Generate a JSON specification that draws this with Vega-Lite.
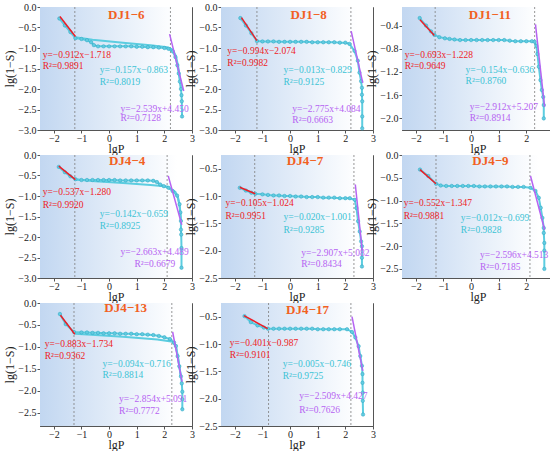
{
  "$schema": "https://vega.github.io/schema/vega-lite/v6.json",
  "padding": {"left": 3, "top": 1, "right": 4, "bottom": 0},
  "background": "white",
  "columns": 3,
  "spacing": {"row": 25, "column": 29},
  "bounds": "flush",
  "datasets": {
    "vl": [
      {"p": "1-6", "x": -1.24}, {"p": "1-6", "x": 2.22},
      {"p": "1-8", "x": -1.2}, {"p": "1-8", "x": 2.2},
      {"p": "1-11", "x": -1.3}, {"p": "1-11", "x": 2.3},
      {"p": "4-4", "x": -1.24}, {"p": "4-4", "x": 2.1},
      {"p": "4-7", "x": -1.28}, {"p": "4-7", "x": 2.31},
      {"p": "4-9", "x": -1.27}, {"p": "4-9", "x": 2.13},
      {"p": "4-13", "x": -1.27}, {"p": "4-13", "x": 2.27},
      {"p": "4-17", "x": -0.78}, {"p": "4-17", "x": 2.2}
    ],
    "fit": [
      {"p": "1-6", "k": "r", "x": -1.78, "y": -0.23}, {"p": "1-6", "k": "r", "x": -1.22, "y": -0.72},
      {"p": "1-6", "k": "m", "x": 2.19, "y": -0.66}, {"p": "1-6", "k": "m", "x": 2.7, "y": -2.05},
      {"p": "1-8", "k": "r", "x": -1.76, "y": -0.26}, {"p": "1-8", "k": "r", "x": -1.2, "y": -0.82},
      {"p": "1-8", "k": "m", "x": 2.21, "y": -0.59}, {"p": "1-8", "k": "m", "x": 2.63, "y": -1.85},
      {"p": "1-11", "k": "r", "x": -1.85, "y": -0.3}, {"p": "1-11", "k": "r", "x": -1.33, "y": -0.57},
      {"p": "1-11", "k": "m", "x": 2.33, "y": -0.38}, {"p": "1-11", "k": "m", "x": 2.66, "y": -1.8},
      {"p": "4-4", "k": "r", "x": -1.82, "y": -0.27}, {"p": "4-4", "k": "r", "x": -1.22, "y": -0.6},
      {"p": "4-4", "k": "m", "x": 2.14, "y": -0.51}, {"p": "4-4", "k": "m", "x": 2.63, "y": -1.7},
      {"p": "4-7", "k": "r", "x": -1.82, "y": -0.84}, {"p": "4-7", "k": "r", "x": -1.26, "y": -0.96},
      {"p": "4-7", "k": "m", "x": 2.36, "y": -0.79}, {"p": "4-7", "k": "m", "x": 2.61, "y": -2.0},
      {"p": "4-9", "k": "r", "x": -1.85, "y": -0.32}, {"p": "4-9", "k": "r", "x": -1.27, "y": -0.63},
      {"p": "4-9", "k": "m", "x": 2.15, "y": -0.46}, {"p": "4-9", "k": "m", "x": 2.66, "y": -1.64},
      {"p": "4-13", "k": "r", "x": -1.76, "y": -0.28}, {"p": "4-13", "k": "r", "x": -1.24, "y": -0.71},
      {"p": "4-13", "k": "m", "x": 2.3, "y": -0.66}, {"p": "4-13", "k": "m", "x": 2.64, "y": -1.79},
      {"p": "4-17", "k": "r", "x": -1.67, "y": -0.48}, {"p": "4-17", "k": "r", "x": -0.81, "y": -0.72},
      {"p": "4-17", "k": "m", "x": 2.24, "y": -0.5}, {"p": "4-17", "k": "m", "x": 2.63, "y": -1.49}
    ],
    "ann": [
      {"p": "1-6", "k": "t", "x": 0.62, "y": -0.2, "t": "DJ1−6"},
      {"p": "1-6", "k": "r", "x": -2.4, "y": -1.17, "t": "y=−0.912x−1.718"},
      {"p": "1-6", "k": "r", "x": -2.4, "y": -1.45, "t": "R²=0.9891"},
      {"p": "1-6", "k": "c", "x": -0.34, "y": -1.54, "t": "y=−0.157x−0.863"},
      {"p": "1-6", "k": "c", "x": -0.34, "y": -1.82, "t": "R²=0.8019"},
      {"p": "1-6", "k": "m", "x": 0.41, "y": -2.48, "t": "y=−2.539x+4.450"},
      {"p": "1-6", "k": "m", "x": 0.41, "y": -2.71, "t": "R²=0.7128"},
      {"p": "1-8", "k": "t", "x": 0.67, "y": -0.2, "t": "DJ1−8"},
      {"p": "1-8", "k": "r", "x": -2.27, "y": -1.07, "t": "y=−0.994x−2.074"},
      {"p": "1-8", "k": "r", "x": -2.27, "y": -1.36, "t": "R²=0.9982"},
      {"p": "1-8", "k": "c", "x": -0.24, "y": -1.54, "t": "y=−0.013x−0.829"},
      {"p": "1-8", "k": "c", "x": -0.24, "y": -1.83, "t": "R²=0.9125"},
      {"p": "1-8", "k": "m", "x": 0.08, "y": -2.48, "t": "y=−2.775x+4.084"},
      {"p": "1-8", "k": "m", "x": 0.08, "y": -2.75, "t": "R²=0.6663"},
      {"p": "1-11", "k": "t", "x": 0.68, "y": -0.21, "t": "DJ1−11"},
      {"p": "1-11", "k": "r", "x": -2.4, "y": -0.9, "t": "y=−0.693x−1.228"},
      {"p": "1-11", "k": "r", "x": -2.4, "y": -1.09, "t": "R²=0.9649"},
      {"p": "1-11", "k": "c", "x": -0.2, "y": -1.16, "t": "y=−0.154x−0.636"},
      {"p": "1-11", "k": "c", "x": -0.2, "y": -1.36, "t": "R²=0.8760"},
      {"p": "1-11", "k": "m", "x": -0.05, "y": -1.81, "t": "y=−2.912x+5.207"},
      {"p": "1-11", "k": "m", "x": -0.05, "y": -1.99, "t": "R²=0.8914"},
      {"p": "4-4", "k": "t", "x": 0.65, "y": -0.15, "t": "DJ4−4"},
      {"p": "4-4", "k": "r", "x": -2.4, "y": -0.9, "t": "y=−0.537x−1.280"},
      {"p": "4-4", "k": "r", "x": -2.4, "y": -1.22, "t": "R²=0.9920"},
      {"p": "4-4", "k": "c", "x": -0.34, "y": -1.43, "t": "y=−0.142x−0.659"},
      {"p": "4-4", "k": "c", "x": -0.34, "y": -1.72, "t": "R²=0.8925"},
      {"p": "4-4", "k": "m", "x": 0.41, "y": -2.36, "t": "y=−2.663x+4.489"},
      {"p": "4-4", "k": "m", "x": 0.92, "y": -2.65, "t": "R²=0.6679"},
      {"p": "4-7", "k": "t", "x": 0.54, "y": -0.36, "t": "DJ4−7"},
      {"p": "4-7", "k": "r", "x": -2.34, "y": -1.13, "t": "y=−0.105x−1.024"},
      {"p": "4-7", "k": "r", "x": -2.34, "y": -1.36, "t": "R²=0.9951"},
      {"p": "4-7", "k": "c", "x": -0.24, "y": -1.39, "t": "y=−0.020x−1.001"},
      {"p": "4-7", "k": "c", "x": -0.24, "y": -1.62, "t": "R²=0.9285"},
      {"p": "4-7", "k": "m", "x": 0.4, "y": -2.04, "t": "y=−2.907x+5.082"},
      {"p": "4-7", "k": "m", "x": 0.4, "y": -2.25, "t": "R²=0.8434"},
      {"p": "4-9", "k": "t", "x": 0.7, "y": -0.14, "t": "DJ4−9"},
      {"p": "4-9", "k": "r", "x": -2.44, "y": -1.05, "t": "y=−0.552x−1.347"},
      {"p": "4-9", "k": "r", "x": -2.44, "y": -1.33, "t": "R²=0.9881"},
      {"p": "4-9", "k": "c", "x": -0.37, "y": -1.38, "t": "y=−0.012x−0.699"},
      {"p": "4-9", "k": "c", "x": -0.37, "y": -1.64, "t": "R²=0.9828"},
      {"p": "4-9", "k": "m", "x": 0.32, "y": -2.19, "t": "y=−2.596x+4.513"},
      {"p": "4-9", "k": "m", "x": 0.32, "y": -2.46, "t": "R²=0.7185"},
      {"p": "4-13", "k": "t", "x": 0.6, "y": -0.12, "t": "DJ4−13"},
      {"p": "4-13", "k": "r", "x": -2.33, "y": -0.94, "t": "y=−0.883x−1.734"},
      {"p": "4-13", "k": "r", "x": -2.33, "y": -1.21, "t": "R²=0.9362"},
      {"p": "4-13", "k": "c", "x": -0.24, "y": -1.38, "t": "y=−0.094x−0.716"},
      {"p": "4-13", "k": "c", "x": -0.24, "y": -1.63, "t": "R²=0.8814"},
      {"p": "4-13", "k": "m", "x": 0.36, "y": -2.19, "t": "y=−2.854x+5.091"},
      {"p": "4-13", "k": "m", "x": 0.36, "y": -2.46, "t": "R²=0.7772"},
      {"p": "4-17", "k": "t", "x": 0.63, "y": -0.37, "t": "DJ4−17"},
      {"p": "4-17", "k": "r", "x": -2.18, "y": -0.98, "t": "y=−0.401x−0.987"},
      {"p": "4-17", "k": "r", "x": -2.18, "y": -1.21, "t": "R²=0.9101"},
      {"p": "4-17", "k": "c", "x": -0.27, "y": -1.36, "t": "y=−0.005x−0.746"},
      {"p": "4-17", "k": "c", "x": -0.27, "y": -1.59, "t": "R²=0.9725"},
      {"p": "4-17", "k": "m", "x": 0.33, "y": -1.96, "t": "y=−2.509x+4.427"},
      {"p": "4-17", "k": "m", "x": 0.33, "y": -2.2, "t": "R²=0.7626"}
    ],
    "curve": [
      {"p": "1-6", "s": "a", "x": -1.8, "y": -0.28}, {"p": "1-6", "s": "a", "x": -1.6, "y": -0.45}, {"p": "1-6", "s": "a", "x": -1.4, "y": -0.61},
      {"p": "1-6", "s": "a", "x": -1.22, "y": -0.76}, {"p": "1-6", "s": "a", "x": -1.0, "y": -0.78}, {"p": "1-6", "s": "a", "x": -0.8, "y": -0.81},
      {"p": "1-6", "s": "a", "x": -0.65, "y": -0.86}, {"p": "1-6", "s": "a", "x": -0.55, "y": -0.93}, {"p": "1-6", "s": "a", "x": -0.4, "y": -0.96},
      {"p": "1-6", "s": "a", "x": -0.2, "y": -0.96}, {"p": "1-6", "s": "a", "x": 0.0, "y": -0.96}, {"p": "1-6", "s": "a", "x": 0.2, "y": -0.96},
      {"p": "1-6", "s": "a", "x": 0.4, "y": -0.96}, {"p": "1-6", "s": "a", "x": 0.6, "y": -0.96}, {"p": "1-6", "s": "a", "x": 0.8, "y": -0.96},
      {"p": "1-6", "s": "a", "x": 1.0, "y": -0.97}, {"p": "1-6", "s": "a", "x": 1.2, "y": -0.97}, {"p": "1-6", "s": "a", "x": 1.4, "y": -0.98},
      {"p": "1-6", "s": "a", "x": 1.6, "y": -0.98}, {"p": "1-6", "s": "a", "x": 1.8, "y": -0.99}, {"p": "1-6", "s": "a", "x": 2.0, "y": -1.0},
      {"p": "1-6", "s": "a", "x": 2.15, "y": -1.02}, {"p": "1-6", "s": "a", "x": 2.3, "y": -1.08}, {"p": "1-6", "s": "a", "x": 2.4, "y": -1.22},
      {"p": "1-6", "s": "a", "x": 2.47, "y": -1.42}, {"p": "1-6", "s": "a", "x": 2.52, "y": -1.62}, {"p": "1-6", "s": "a", "x": 2.56, "y": -1.82},
      {"p": "1-6", "s": "a", "x": 2.6, "y": -2.0}, {"p": "1-6", "s": "a", "x": 2.62, "y": -2.15}, {"p": "1-6", "s": "a", "x": 2.63, "y": -2.3},
      {"p": "1-6", "s": "a", "x": 2.64, "y": -2.67},
      {"p": "1-6", "s": "b", "x": -1.22, "y": -0.74}, {"p": "1-6", "s": "b", "x": -0.6, "y": -0.8}, {"p": "1-6", "s": "b", "x": 0.5, "y": -0.87},
      {"p": "1-6", "s": "b", "x": 1.5, "y": -0.93}, {"p": "1-6", "s": "b", "x": 2.1, "y": -0.98}, {"p": "1-6", "s": "b", "x": 2.3, "y": -1.04},
      {"p": "1-6", "s": "b", "x": 2.42, "y": -1.2}, {"p": "1-6", "s": "b", "x": 2.5, "y": -1.45}, {"p": "1-6", "s": "b", "x": 2.57, "y": -1.75},
      {"p": "1-6", "s": "b", "x": 2.6, "y": -1.95},

      {"p": "1-8", "s": "a", "x": -1.8, "y": -0.27}, {"p": "1-8", "s": "a", "x": -1.6, "y": -0.45}, {"p": "1-8", "s": "a", "x": -1.4, "y": -0.64},
      {"p": "1-8", "s": "a", "x": -1.2, "y": -0.83}, {"p": "1-8", "s": "a", "x": -1.0, "y": -0.84}, {"p": "1-8", "s": "a", "x": -0.8, "y": -0.84},
      {"p": "1-8", "s": "a", "x": -0.6, "y": -0.84}, {"p": "1-8", "s": "a", "x": -0.4, "y": -0.85}, {"p": "1-8", "s": "a", "x": -0.2, "y": -0.85},
      {"p": "1-8", "s": "a", "x": 0.0, "y": -0.85}, {"p": "1-8", "s": "a", "x": 0.2, "y": -0.85}, {"p": "1-8", "s": "a", "x": 0.4, "y": -0.85},
      {"p": "1-8", "s": "a", "x": 0.6, "y": -0.85}, {"p": "1-8", "s": "a", "x": 0.8, "y": -0.86}, {"p": "1-8", "s": "a", "x": 1.0, "y": -0.86},
      {"p": "1-8", "s": "a", "x": 1.2, "y": -0.86}, {"p": "1-8", "s": "a", "x": 1.4, "y": -0.86}, {"p": "1-8", "s": "a", "x": 1.6, "y": -0.86},
      {"p": "1-8", "s": "a", "x": 1.8, "y": -0.87}, {"p": "1-8", "s": "a", "x": 2.0, "y": -0.87}, {"p": "1-8", "s": "a", "x": 2.15, "y": -0.9},
      {"p": "1-8", "s": "a", "x": 2.33, "y": -1.07}, {"p": "1-8", "s": "a", "x": 2.45, "y": -1.31}, {"p": "1-8", "s": "a", "x": 2.51, "y": -1.6},
      {"p": "1-8", "s": "a", "x": 2.57, "y": -1.81}, {"p": "1-8", "s": "a", "x": 2.6, "y": -1.97}, {"p": "1-8", "s": "a", "x": 2.6, "y": -2.14},
      {"p": "1-8", "s": "a", "x": 2.61, "y": -2.3}, {"p": "1-8", "s": "a", "x": 2.61, "y": -2.67}, {"p": "1-8", "s": "a", "x": 2.61, "y": -2.96},

      {"p": "1-11", "s": "a", "x": -1.86, "y": -0.27}, {"p": "1-11", "s": "a", "x": -1.63, "y": -0.4}, {"p": "1-11", "s": "a", "x": -1.45, "y": -0.5},
      {"p": "1-11", "s": "a", "x": -1.33, "y": -0.56}, {"p": "1-11", "s": "a", "x": -1.15, "y": -0.6}, {"p": "1-11", "s": "a", "x": -0.95, "y": -0.62},
      {"p": "1-11", "s": "a", "x": -0.78, "y": -0.63}, {"p": "1-11", "s": "a", "x": -0.6, "y": -0.64}, {"p": "1-11", "s": "a", "x": -0.4, "y": -0.65},
      {"p": "1-11", "s": "a", "x": -0.2, "y": -0.65}, {"p": "1-11", "s": "a", "x": 0.0, "y": -0.65}, {"p": "1-11", "s": "a", "x": 0.2, "y": -0.65},
      {"p": "1-11", "s": "a", "x": 0.4, "y": -0.65}, {"p": "1-11", "s": "a", "x": 0.6, "y": -0.65}, {"p": "1-11", "s": "a", "x": 0.8, "y": -0.65},
      {"p": "1-11", "s": "a", "x": 1.0, "y": -0.65}, {"p": "1-11", "s": "a", "x": 1.2, "y": -0.65}, {"p": "1-11", "s": "a", "x": 1.4, "y": -0.66},
      {"p": "1-11", "s": "a", "x": 1.6, "y": -0.67}, {"p": "1-11", "s": "a", "x": 1.8, "y": -0.67}, {"p": "1-11", "s": "a", "x": 2.0, "y": -0.67},
      {"p": "1-11", "s": "a", "x": 2.2, "y": -0.67}, {"p": "1-11", "s": "a", "x": 2.3, "y": -0.68}, {"p": "1-11", "s": "a", "x": 2.36, "y": -0.75},
      {"p": "1-11", "s": "a", "x": 2.4, "y": -0.89}, {"p": "1-11", "s": "a", "x": 2.45, "y": -1.11}, {"p": "1-11", "s": "a", "x": 2.51, "y": -1.34},
      {"p": "1-11", "s": "a", "x": 2.56, "y": -1.51}, {"p": "1-11", "s": "a", "x": 2.61, "y": -1.63}, {"p": "1-11", "s": "a", "x": 2.63, "y": -1.77},
      {"p": "1-11", "s": "a", "x": 2.63, "y": -2.0},

      {"p": "4-4", "s": "a", "x": -1.82, "y": -0.29}, {"p": "4-4", "s": "a", "x": -1.6, "y": -0.42}, {"p": "4-4", "s": "a", "x": -1.4, "y": -0.52},
      {"p": "4-4", "s": "a", "x": -1.22, "y": -0.59}, {"p": "4-4", "s": "a", "x": -1.0, "y": -0.61}, {"p": "4-4", "s": "a", "x": -0.8, "y": -0.61},
      {"p": "4-4", "s": "a", "x": -0.6, "y": -0.61}, {"p": "4-4", "s": "a", "x": -0.4, "y": -0.61}, {"p": "4-4", "s": "a", "x": -0.2, "y": -0.61},
      {"p": "4-4", "s": "a", "x": 0.0, "y": -0.61}, {"p": "4-4", "s": "a", "x": 0.2, "y": -0.61}, {"p": "4-4", "s": "a", "x": 0.4, "y": -0.62},
      {"p": "4-4", "s": "a", "x": 0.6, "y": -0.62}, {"p": "4-4", "s": "a", "x": 0.8, "y": -0.62}, {"p": "4-4", "s": "a", "x": 1.0, "y": -0.62},
      {"p": "4-4", "s": "a", "x": 1.2, "y": -0.62}, {"p": "4-4", "s": "a", "x": 1.4, "y": -0.62}, {"p": "4-4", "s": "a", "x": 1.6, "y": -0.63},
      {"p": "4-4", "s": "a", "x": 1.73, "y": -0.66}, {"p": "4-4", "s": "a", "x": 1.85, "y": -0.72}, {"p": "4-4", "s": "a", "x": 1.98, "y": -0.76},
      {"p": "4-4", "s": "a", "x": 2.15, "y": -0.8}, {"p": "4-4", "s": "a", "x": 2.3, "y": -0.88}, {"p": "4-4", "s": "a", "x": 2.46, "y": -0.99},
      {"p": "4-4", "s": "a", "x": 2.55, "y": -1.2}, {"p": "4-4", "s": "a", "x": 2.58, "y": -1.4}, {"p": "4-4", "s": "a", "x": 2.6, "y": -1.61},
      {"p": "4-4", "s": "a", "x": 2.6, "y": -1.82}, {"p": "4-4", "s": "a", "x": 2.61, "y": -1.94}, {"p": "4-4", "s": "a", "x": 2.62, "y": -2.27},
      {"p": "4-4", "s": "a", "x": 2.62, "y": -2.75},
      {"p": "4-4", "s": "b", "x": -1.22, "y": -0.6}, {"p": "4-4", "s": "b", "x": -0.5, "y": -0.64}, {"p": "4-4", "s": "b", "x": 0.5, "y": -0.68},
      {"p": "4-4", "s": "b", "x": 1.5, "y": -0.73}, {"p": "4-4", "s": "b", "x": 2.1, "y": -0.77}, {"p": "4-4", "s": "b", "x": 2.4, "y": -0.9},
      {"p": "4-4", "s": "b", "x": 2.5, "y": -1.05}, {"p": "4-4", "s": "b", "x": 2.56, "y": -1.3}, {"p": "4-4", "s": "b", "x": 2.6, "y": -1.6},

      {"p": "4-7", "s": "a", "x": -1.82, "y": -0.85}, {"p": "4-7", "s": "a", "x": -1.6, "y": -0.9}, {"p": "4-7", "s": "a", "x": -1.4, "y": -0.94},
      {"p": "4-7", "s": "a", "x": -1.26, "y": -0.96}, {"p": "4-7", "s": "a", "x": -1.0, "y": -0.97}, {"p": "4-7", "s": "a", "x": -0.8, "y": -0.98},
      {"p": "4-7", "s": "a", "x": -0.6, "y": -0.99}, {"p": "4-7", "s": "a", "x": -0.4, "y": -0.99}, {"p": "4-7", "s": "a", "x": -0.2, "y": -1.0},
      {"p": "4-7", "s": "a", "x": 0.0, "y": -1.0}, {"p": "4-7", "s": "a", "x": 0.2, "y": -1.01}, {"p": "4-7", "s": "a", "x": 0.4, "y": -1.01},
      {"p": "4-7", "s": "a", "x": 0.6, "y": -1.02}, {"p": "4-7", "s": "a", "x": 0.8, "y": -1.02}, {"p": "4-7", "s": "a", "x": 1.0, "y": -1.02},
      {"p": "4-7", "s": "a", "x": 1.2, "y": -1.03}, {"p": "4-7", "s": "a", "x": 1.4, "y": -1.03}, {"p": "4-7", "s": "a", "x": 1.6, "y": -1.03},
      {"p": "4-7", "s": "a", "x": 1.8, "y": -1.04}, {"p": "4-7", "s": "a", "x": 2.0, "y": -1.04}, {"p": "4-7", "s": "a", "x": 2.16, "y": -1.04},
      {"p": "4-7", "s": "a", "x": 2.34, "y": -1.07}, {"p": "4-7", "s": "a", "x": 2.4, "y": -1.22}, {"p": "4-7", "s": "a", "x": 2.46, "y": -1.46},
      {"p": "4-7", "s": "a", "x": 2.52, "y": -1.65}, {"p": "4-7", "s": "a", "x": 2.57, "y": -1.83}, {"p": "4-7", "s": "a", "x": 2.6, "y": -1.92},
      {"p": "4-7", "s": "a", "x": 2.6, "y": -2.13}, {"p": "4-7", "s": "a", "x": 2.6, "y": -2.29},

      {"p": "4-9", "s": "a", "x": -1.85, "y": -0.32}, {"p": "4-9", "s": "a", "x": -1.55, "y": -0.46}, {"p": "4-9", "s": "a", "x": -1.27, "y": -0.63},
      {"p": "4-9", "s": "a", "x": -1.1, "y": -0.67}, {"p": "4-9", "s": "a", "x": -0.9, "y": -0.68}, {"p": "4-9", "s": "a", "x": -0.7, "y": -0.68},
      {"p": "4-9", "s": "a", "x": -0.5, "y": -0.68}, {"p": "4-9", "s": "a", "x": -0.3, "y": -0.68}, {"p": "4-9", "s": "a", "x": -0.1, "y": -0.68},
      {"p": "4-9", "s": "a", "x": 0.1, "y": -0.68}, {"p": "4-9", "s": "a", "x": 0.3, "y": -0.69}, {"p": "4-9", "s": "a", "x": 0.5, "y": -0.69},
      {"p": "4-9", "s": "a", "x": 0.7, "y": -0.69}, {"p": "4-9", "s": "a", "x": 0.9, "y": -0.69}, {"p": "4-9", "s": "a", "x": 1.1, "y": -0.69},
      {"p": "4-9", "s": "a", "x": 1.3, "y": -0.69}, {"p": "4-9", "s": "a", "x": 1.5, "y": -0.7}, {"p": "4-9", "s": "a", "x": 1.7, "y": -0.7},
      {"p": "4-9", "s": "a", "x": 1.9, "y": -0.7}, {"p": "4-9", "s": "a", "x": 2.15, "y": -0.72}, {"p": "4-9", "s": "a", "x": 2.33, "y": -0.79},
      {"p": "4-9", "s": "a", "x": 2.45, "y": -0.94}, {"p": "4-9", "s": "a", "x": 2.52, "y": -1.16}, {"p": "4-9", "s": "a", "x": 2.58, "y": -1.38},
      {"p": "4-9", "s": "a", "x": 2.63, "y": -1.6}, {"p": "4-9", "s": "a", "x": 2.63, "y": -1.71}, {"p": "4-9", "s": "a", "x": 2.65, "y": -1.93},
      {"p": "4-9", "s": "a", "x": 2.65, "y": -2.1}, {"p": "4-9", "s": "a", "x": 2.65, "y": -2.5},

      {"p": "4-13", "s": "a", "x": -1.78, "y": -0.25}, {"p": "4-13", "s": "a", "x": -1.57, "y": -0.48}, {"p": "4-13", "s": "a", "x": -1.27, "y": -0.66},
      {"p": "4-13", "s": "a", "x": -1.0, "y": -0.67}, {"p": "4-13", "s": "a", "x": -0.8, "y": -0.67}, {"p": "4-13", "s": "a", "x": -0.6, "y": -0.68},
      {"p": "4-13", "s": "a", "x": -0.4, "y": -0.68}, {"p": "4-13", "s": "a", "x": -0.2, "y": -0.69}, {"p": "4-13", "s": "a", "x": 0.0, "y": -0.69},
      {"p": "4-13", "s": "a", "x": 0.2, "y": -0.69}, {"p": "4-13", "s": "a", "x": 0.4, "y": -0.7}, {"p": "4-13", "s": "a", "x": 0.6, "y": -0.7},
      {"p": "4-13", "s": "a", "x": 0.8, "y": -0.7}, {"p": "4-13", "s": "a", "x": 1.0, "y": -0.71}, {"p": "4-13", "s": "a", "x": 1.2, "y": -0.71},
      {"p": "4-13", "s": "a", "x": 1.4, "y": -0.72}, {"p": "4-13", "s": "a", "x": 1.6, "y": -0.73}, {"p": "4-13", "s": "a", "x": 1.8, "y": -0.75},
      {"p": "4-13", "s": "a", "x": 2.0, "y": -0.78}, {"p": "4-13", "s": "a", "x": 2.2, "y": -0.82}, {"p": "4-13", "s": "a", "x": 2.35, "y": -0.9},
      {"p": "4-13", "s": "a", "x": 2.42, "y": -0.98}, {"p": "4-13", "s": "a", "x": 2.48, "y": -1.21}, {"p": "4-13", "s": "a", "x": 2.54, "y": -1.44},
      {"p": "4-13", "s": "a", "x": 2.6, "y": -1.67}, {"p": "4-13", "s": "a", "x": 2.63, "y": -1.83}, {"p": "4-13", "s": "a", "x": 2.65, "y": -2.02},
      {"p": "4-13", "s": "a", "x": 2.65, "y": -2.19}, {"p": "4-13", "s": "a", "x": 2.65, "y": -2.42},
      {"p": "4-13", "s": "b", "x": -1.24, "y": -0.7}, {"p": "4-13", "s": "b", "x": -0.5, "y": -0.73}, {"p": "4-13", "s": "b", "x": 0.5, "y": -0.77},
      {"p": "4-13", "s": "b", "x": 1.75, "y": -0.83}, {"p": "4-13", "s": "b", "x": 2.3, "y": -0.88}, {"p": "4-13", "s": "b", "x": 2.42, "y": -1.0},
      {"p": "4-13", "s": "b", "x": 2.5, "y": -1.25}, {"p": "4-13", "s": "b", "x": 2.6, "y": -1.7},

      {"p": "4-17", "s": "a", "x": -1.65, "y": -0.49}, {"p": "4-17", "s": "a", "x": -1.42, "y": -0.6}, {"p": "4-17", "s": "a", "x": -1.18, "y": -0.66},
      {"p": "4-17", "s": "a", "x": -0.95, "y": -0.7}, {"p": "4-17", "s": "a", "x": -0.8, "y": -0.72}, {"p": "4-17", "s": "a", "x": -0.6, "y": -0.72},
      {"p": "4-17", "s": "a", "x": -0.4, "y": -0.72}, {"p": "4-17", "s": "a", "x": -0.2, "y": -0.72}, {"p": "4-17", "s": "a", "x": 0.0, "y": -0.72},
      {"p": "4-17", "s": "a", "x": 0.2, "y": -0.72}, {"p": "4-17", "s": "a", "x": 0.4, "y": -0.72}, {"p": "4-17", "s": "a", "x": 0.6, "y": -0.72},
      {"p": "4-17", "s": "a", "x": 0.8, "y": -0.72}, {"p": "4-17", "s": "a", "x": 1.0, "y": -0.73}, {"p": "4-17", "s": "a", "x": 1.2, "y": -0.73},
      {"p": "4-17", "s": "a", "x": 1.4, "y": -0.73}, {"p": "4-17", "s": "a", "x": 1.6, "y": -0.73}, {"p": "4-17", "s": "a", "x": 1.8, "y": -0.73},
      {"p": "4-17", "s": "a", "x": 2.06, "y": -0.73}, {"p": "4-17", "s": "a", "x": 2.24, "y": -0.78}, {"p": "4-17", "s": "a", "x": 2.36, "y": -0.88},
      {"p": "4-17", "s": "a", "x": 2.48, "y": -1.04}, {"p": "4-17", "s": "a", "x": 2.54, "y": -1.22}, {"p": "4-17", "s": "a", "x": 2.6, "y": -1.4},
      {"p": "4-17", "s": "a", "x": 2.62, "y": -1.55}, {"p": "4-17", "s": "a", "x": 2.62, "y": -1.71}, {"p": "4-17", "s": "a", "x": 2.63, "y": -1.89},
      {"p": "4-17", "s": "a", "x": 2.63, "y": -2.04}, {"p": "4-17", "s": "a", "x": 2.64, "y": -2.29}
    ]
  },
  "concat": [
    {"width": 152, "height": 123, "layer": [
      {"data": {"values": [{}]}, "mark": {"type": "rect", "color": {"gradient": "linear", "x1": 0, "x2": 1, "y1": 0, "y2": 0, "stops": [{"offset": 0, "color": "#c2d7f1"}, {"offset": 0.9, "color": "#ffffff"}]}},
       "encoding": {"x": {"datum": -2.5, "type": "quantitative", "scale": {"domain": [-2.5, 3], "nice": false}, "axis": {"title": "lgP", "values": [-2, -1, 0, 1, 2, 3], "tickCount": 20, "format": "d", "labelOverlap": false}}, "x2": {"datum": 3},
                    "y": {"datum": -3, "type": "quantitative", "scale": {"domain": [-3, 0], "nice": false, "zero": false}, "axis": {"title": "lg(1−S)", "values": [0, -0.5, -1, -1.5, -2, -2.5, -3], "tickCount": 20, "format": ".1f", "labelOverlap": false}}, "y2": {"datum": 0}}},
      {"data": {"name": "vl"}, "transform": [{"filter": "datum.p=='1-6'"}], "mark": {"type": "rule", "color": "#7d7d7d", "strokeDash": [2, 2], "strokeWidth": 0.8}, "encoding": {"x": {"field": "x", "type": "quantitative"}}},
      {"data": {"name": "curve"}, "transform": [{"filter": "datum.p=='1-6'"}], "mark": {"type": "line", "color": "#5ccde0", "strokeWidth": 2}, "encoding": {"x": {"field": "x", "type": "quantitative"}, "y": {"field": "y", "type": "quantitative"}, "detail": {"field": "s"}, "order": {"value": null}}},
      {"data": {"name": "curve"}, "transform": [{"filter": "datum.p=='1-6' && datum.s=='a'"}], "mark": {"type": "point", "shape": "circle", "filled": true, "size": 12, "color": "#63cbe0", "stroke": "#2aa6c2", "strokeWidth": 0.5, "opacity": 1}, "encoding": {"x": {"field": "x", "type": "quantitative"}, "y": {"field": "y", "type": "quantitative"}}},
      {"data": {"name": "fit"}, "transform": [{"filter": "datum.p=='1-6'"}], "mark": {"type": "line", "strokeWidth": 1.5}, "encoding": {"x": {"field": "x", "type": "quantitative"}, "y": {"field": "y", "type": "quantitative"}, "color": {"field": "k", "type": "nominal", "scale": {"domain": ["r", "c", "m"], "range": ["#ee1c25", "#3cc3d5", "#b663f2"]}, "legend": null}}},
      {"data": {"name": "ann"}, "transform": [{"filter": "datum.p=='1-6' && datum.k!='t'"}], "mark": {"type": "text", "align": "left", "baseline": "middle", "fontSize": 9.5}, "encoding": {"x": {"field": "x", "type": "quantitative"}, "y": {"field": "y", "type": "quantitative"}, "text": {"field": "t"}, "color": {"field": "k", "type": "nominal", "scale": {"domain": ["r", "c", "m"], "range": ["#ee1c25", "#3cc3d5", "#b663f2"]}, "legend": null}}},
      {"data": {"name": "ann"}, "transform": [{"filter": "datum.p=='1-6' && datum.k=='t'"}], "mark": {"type": "text", "align": "center", "baseline": "middle", "fontSize": 13, "fontWeight": "bold", "color": "#f2611f"}, "encoding": {"x": {"field": "x", "type": "quantitative"}, "y": {"field": "y", "type": "quantitative"}, "text": {"field": "t"}}}
    ]},
    {"width": 152, "height": 123, "layer": [
      {"data": {"values": [{}]}, "mark": {"type": "rect", "color": {"gradient": "linear", "x1": 0, "x2": 1, "y1": 0, "y2": 0, "stops": [{"offset": 0, "color": "#c2d7f1"}, {"offset": 0.9, "color": "#ffffff"}]}},
       "encoding": {"x": {"datum": -2.5, "type": "quantitative", "scale": {"domain": [-2.5, 3], "nice": false}, "axis": {"title": "lgP", "values": [-2, -1, 0, 1, 2, 3], "tickCount": 20, "format": "d", "labelOverlap": false}}, "x2": {"datum": 3},
                    "y": {"datum": -3, "type": "quantitative", "scale": {"domain": [-3, 0], "nice": false, "zero": false}, "axis": {"title": "lg(1−S)", "values": [0, -0.5, -1, -1.5, -2, -2.5, -3], "tickCount": 20, "format": ".1f", "labelOverlap": false}}, "y2": {"datum": 0}}},
      {"data": {"name": "vl"}, "transform": [{"filter": "datum.p=='1-8'"}], "mark": {"type": "rule", "color": "#7d7d7d", "strokeDash": [2, 2], "strokeWidth": 0.8}, "encoding": {"x": {"field": "x", "type": "quantitative"}}},
      {"data": {"name": "curve"}, "transform": [{"filter": "datum.p=='1-8'"}], "mark": {"type": "line", "color": "#5ccde0", "strokeWidth": 2}, "encoding": {"x": {"field": "x", "type": "quantitative"}, "y": {"field": "y", "type": "quantitative"}, "detail": {"field": "s"}, "order": {"value": null}}},
      {"data": {"name": "curve"}, "transform": [{"filter": "datum.p=='1-8' && datum.s=='a'"}], "mark": {"type": "point", "shape": "circle", "filled": true, "size": 12, "color": "#63cbe0", "stroke": "#2aa6c2", "strokeWidth": 0.5, "opacity": 1}, "encoding": {"x": {"field": "x", "type": "quantitative"}, "y": {"field": "y", "type": "quantitative"}}},
      {"data": {"name": "fit"}, "transform": [{"filter": "datum.p=='1-8'"}], "mark": {"type": "line", "strokeWidth": 1.5}, "encoding": {"x": {"field": "x", "type": "quantitative"}, "y": {"field": "y", "type": "quantitative"}, "color": {"field": "k", "type": "nominal", "scale": {"domain": ["r", "c", "m"], "range": ["#ee1c25", "#3cc3d5", "#b663f2"]}, "legend": null}}},
      {"data": {"name": "ann"}, "transform": [{"filter": "datum.p=='1-8' && datum.k!='t'"}], "mark": {"type": "text", "align": "left", "baseline": "middle", "fontSize": 9.5}, "encoding": {"x": {"field": "x", "type": "quantitative"}, "y": {"field": "y", "type": "quantitative"}, "text": {"field": "t"}, "color": {"field": "k", "type": "nominal", "scale": {"domain": ["r", "c", "m"], "range": ["#ee1c25", "#3cc3d5", "#b663f2"]}, "legend": null}}},
      {"data": {"name": "ann"}, "transform": [{"filter": "datum.p=='1-8' && datum.k=='t'"}], "mark": {"type": "text", "align": "center", "baseline": "middle", "fontSize": 13, "fontWeight": "bold", "color": "#f2611f"}, "encoding": {"x": {"field": "x", "type": "quantitative"}, "y": {"field": "y", "type": "quantitative"}, "text": {"field": "t"}}}
    ]},
    {"width": 152, "height": 123, "layer": [
      {"data": {"values": [{}]}, "mark": {"type": "rect", "color": {"gradient": "linear", "x1": 0, "x2": 1, "y1": 0, "y2": 0, "stops": [{"offset": 0, "color": "#c2d7f1"}, {"offset": 0.9, "color": "#ffffff"}]}},
       "encoding": {"x": {"datum": -2.5, "type": "quantitative", "scale": {"domain": [-2.5, 3], "nice": false}, "axis": {"title": "lgP", "values": [-2, -1, 0, 1, 2, 3], "tickCount": 20, "format": "d", "labelOverlap": false}}, "x2": {"datum": 3},
                    "y": {"datum": -2.2, "type": "quantitative", "scale": {"domain": [-2.2, -0.08], "nice": false, "zero": false}, "axis": {"title": "lg(1−S)", "values": [-0.4, -0.8, -1.2, -1.6, -2.0], "tickCount": 20, "format": ".1f", "labelOverlap": false}}, "y2": {"datum": -0.08}}},
      {"data": {"name": "vl"}, "transform": [{"filter": "datum.p=='1-11'"}], "mark": {"type": "rule", "color": "#7d7d7d", "strokeDash": [2, 2], "strokeWidth": 0.8}, "encoding": {"x": {"field": "x", "type": "quantitative"}}},
      {"data": {"name": "curve"}, "transform": [{"filter": "datum.p=='1-11'"}], "mark": {"type": "line", "color": "#5ccde0", "strokeWidth": 2}, "encoding": {"x": {"field": "x", "type": "quantitative"}, "y": {"field": "y", "type": "quantitative"}, "detail": {"field": "s"}, "order": {"value": null}}},
      {"data": {"name": "curve"}, "transform": [{"filter": "datum.p=='1-11' && datum.s=='a'"}], "mark": {"type": "point", "shape": "circle", "filled": true, "size": 12, "color": "#63cbe0", "stroke": "#2aa6c2", "strokeWidth": 0.5, "opacity": 1}, "encoding": {"x": {"field": "x", "type": "quantitative"}, "y": {"field": "y", "type": "quantitative"}}},
      {"data": {"name": "fit"}, "transform": [{"filter": "datum.p=='1-11'"}], "mark": {"type": "line", "strokeWidth": 1.5}, "encoding": {"x": {"field": "x", "type": "quantitative"}, "y": {"field": "y", "type": "quantitative"}, "color": {"field": "k", "type": "nominal", "scale": {"domain": ["r", "c", "m"], "range": ["#ee1c25", "#3cc3d5", "#b663f2"]}, "legend": null}}},
      {"data": {"name": "ann"}, "transform": [{"filter": "datum.p=='1-11' && datum.k!='t'"}], "mark": {"type": "text", "align": "left", "baseline": "middle", "fontSize": 9.5}, "encoding": {"x": {"field": "x", "type": "quantitative"}, "y": {"field": "y", "type": "quantitative"}, "text": {"field": "t"}, "color": {"field": "k", "type": "nominal", "scale": {"domain": ["r", "c", "m"], "range": ["#ee1c25", "#3cc3d5", "#b663f2"]}, "legend": null}}},
      {"data": {"name": "ann"}, "transform": [{"filter": "datum.p=='1-11' && datum.k=='t'"}], "mark": {"type": "text", "align": "center", "baseline": "middle", "fontSize": 13, "fontWeight": "bold", "color": "#f2611f"}, "encoding": {"x": {"field": "x", "type": "quantitative"}, "y": {"field": "y", "type": "quantitative"}, "text": {"field": "t"}}}
    ]},
    {"width": 152, "height": 123, "layer": [
      {"data": {"values": [{}]}, "mark": {"type": "rect", "color": {"gradient": "linear", "x1": 0, "x2": 1, "y1": 0, "y2": 0, "stops": [{"offset": 0, "color": "#c2d7f1"}, {"offset": 0.9, "color": "#ffffff"}]}},
       "encoding": {"x": {"datum": -2.5, "type": "quantitative", "scale": {"domain": [-2.5, 3], "nice": false}, "axis": {"title": "lgP", "values": [-2, -1, 0, 1, 2, 3], "tickCount": 20, "format": "d", "labelOverlap": false}}, "x2": {"datum": 3},
                    "y": {"datum": -3, "type": "quantitative", "scale": {"domain": [-3, 0], "nice": false, "zero": false}, "axis": {"title": "lg(1−S)", "values": [0, -0.5, -1, -1.5, -2, -2.5, -3], "tickCount": 20, "format": ".1f", "labelOverlap": false}}, "y2": {"datum": 0}}},
      {"data": {"name": "vl"}, "transform": [{"filter": "datum.p=='4-4'"}], "mark": {"type": "rule", "color": "#7d7d7d", "strokeDash": [2, 2], "strokeWidth": 0.8}, "encoding": {"x": {"field": "x", "type": "quantitative"}}},
      {"data": {"name": "curve"}, "transform": [{"filter": "datum.p=='4-4'"}], "mark": {"type": "line", "color": "#5ccde0", "strokeWidth": 2}, "encoding": {"x": {"field": "x", "type": "quantitative"}, "y": {"field": "y", "type": "quantitative"}, "detail": {"field": "s"}, "order": {"value": null}}},
      {"data": {"name": "curve"}, "transform": [{"filter": "datum.p=='4-4' && datum.s=='a'"}], "mark": {"type": "point", "shape": "circle", "filled": true, "size": 12, "color": "#63cbe0", "stroke": "#2aa6c2", "strokeWidth": 0.5, "opacity": 1}, "encoding": {"x": {"field": "x", "type": "quantitative"}, "y": {"field": "y", "type": "quantitative"}}},
      {"data": {"name": "fit"}, "transform": [{"filter": "datum.p=='4-4'"}], "mark": {"type": "line", "strokeWidth": 1.5}, "encoding": {"x": {"field": "x", "type": "quantitative"}, "y": {"field": "y", "type": "quantitative"}, "color": {"field": "k", "type": "nominal", "scale": {"domain": ["r", "c", "m"], "range": ["#ee1c25", "#3cc3d5", "#b663f2"]}, "legend": null}}},
      {"data": {"name": "ann"}, "transform": [{"filter": "datum.p=='4-4' && datum.k!='t'"}], "mark": {"type": "text", "align": "left", "baseline": "middle", "fontSize": 9.5}, "encoding": {"x": {"field": "x", "type": "quantitative"}, "y": {"field": "y", "type": "quantitative"}, "text": {"field": "t"}, "color": {"field": "k", "type": "nominal", "scale": {"domain": ["r", "c", "m"], "range": ["#ee1c25", "#3cc3d5", "#b663f2"]}, "legend": null}}},
      {"data": {"name": "ann"}, "transform": [{"filter": "datum.p=='4-4' && datum.k=='t'"}], "mark": {"type": "text", "align": "center", "baseline": "middle", "fontSize": 13, "fontWeight": "bold", "color": "#f2611f"}, "encoding": {"x": {"field": "x", "type": "quantitative"}, "y": {"field": "y", "type": "quantitative"}, "text": {"field": "t"}}}
    ]},
    {"width": 152, "height": 123, "layer": [
      {"data": {"values": [{}]}, "mark": {"type": "rect", "color": {"gradient": "linear", "x1": 0, "x2": 1, "y1": 0, "y2": 0, "stops": [{"offset": 0, "color": "#c2d7f1"}, {"offset": 0.9, "color": "#ffffff"}]}},
       "encoding": {"x": {"datum": -2.5, "type": "quantitative", "scale": {"domain": [-2.5, 3], "nice": false}, "axis": {"title": "lgP", "values": [-2, -1, 0, 1, 2, 3], "tickCount": 20, "format": "d", "labelOverlap": false}}, "x2": {"datum": 3},
                    "y": {"datum": -2.5, "type": "quantitative", "scale": {"domain": [-2.5, -0.25], "nice": false, "zero": false}, "axis": {"title": "lg(1−S)", "values": [-0.5, -1, -1.5, -2, -2.5], "tickCount": 20, "format": ".1f", "labelOverlap": false}}, "y2": {"datum": -0.25}}},
      {"data": {"name": "vl"}, "transform": [{"filter": "datum.p=='4-7'"}], "mark": {"type": "rule", "color": "#7d7d7d", "strokeDash": [2, 2], "strokeWidth": 0.8}, "encoding": {"x": {"field": "x", "type": "quantitative"}}},
      {"data": {"name": "curve"}, "transform": [{"filter": "datum.p=='4-7'"}], "mark": {"type": "line", "color": "#5ccde0", "strokeWidth": 2}, "encoding": {"x": {"field": "x", "type": "quantitative"}, "y": {"field": "y", "type": "quantitative"}, "detail": {"field": "s"}, "order": {"value": null}}},
      {"data": {"name": "curve"}, "transform": [{"filter": "datum.p=='4-7' && datum.s=='a'"}], "mark": {"type": "point", "shape": "circle", "filled": true, "size": 12, "color": "#63cbe0", "stroke": "#2aa6c2", "strokeWidth": 0.5, "opacity": 1}, "encoding": {"x": {"field": "x", "type": "quantitative"}, "y": {"field": "y", "type": "quantitative"}}},
      {"data": {"name": "fit"}, "transform": [{"filter": "datum.p=='4-7'"}], "mark": {"type": "line", "strokeWidth": 1.5}, "encoding": {"x": {"field": "x", "type": "quantitative"}, "y": {"field": "y", "type": "quantitative"}, "color": {"field": "k", "type": "nominal", "scale": {"domain": ["r", "c", "m"], "range": ["#ee1c25", "#3cc3d5", "#b663f2"]}, "legend": null}}},
      {"data": {"name": "ann"}, "transform": [{"filter": "datum.p=='4-7' && datum.k!='t'"}], "mark": {"type": "text", "align": "left", "baseline": "middle", "fontSize": 9.5}, "encoding": {"x": {"field": "x", "type": "quantitative"}, "y": {"field": "y", "type": "quantitative"}, "text": {"field": "t"}, "color": {"field": "k", "type": "nominal", "scale": {"domain": ["r", "c", "m"], "range": ["#ee1c25", "#3cc3d5", "#b663f2"]}, "legend": null}}},
      {"data": {"name": "ann"}, "transform": [{"filter": "datum.p=='4-7' && datum.k=='t'"}], "mark": {"type": "text", "align": "center", "baseline": "middle", "fontSize": 13, "fontWeight": "bold", "color": "#f2611f"}, "encoding": {"x": {"field": "x", "type": "quantitative"}, "y": {"field": "y", "type": "quantitative"}, "text": {"field": "t"}}}
    ]},
    {"width": 152, "height": 123, "layer": [
      {"data": {"values": [{}]}, "mark": {"type": "rect", "color": {"gradient": "linear", "x1": 0, "x2": 1, "y1": 0, "y2": 0, "stops": [{"offset": 0, "color": "#c2d7f1"}, {"offset": 0.9, "color": "#ffffff"}]}},
       "encoding": {"x": {"datum": -2.5, "type": "quantitative", "scale": {"domain": [-2.5, 3], "nice": false}, "axis": {"title": "lgP", "values": [-2, -1, 0, 1, 2, 3], "tickCount": 20, "format": "d", "labelOverlap": false}}, "x2": {"datum": 3},
                    "y": {"datum": -2.7, "type": "quantitative", "scale": {"domain": [-2.7, 0], "nice": false, "zero": false}, "axis": {"title": "lg(1−S)", "values": [0, -0.5, -1, -1.5, -2, -2.5], "tickCount": 20, "format": ".1f", "labelOverlap": false}}, "y2": {"datum": 0}}},
      {"data": {"name": "vl"}, "transform": [{"filter": "datum.p=='4-9'"}], "mark": {"type": "rule", "color": "#7d7d7d", "strokeDash": [2, 2], "strokeWidth": 0.8}, "encoding": {"x": {"field": "x", "type": "quantitative"}}},
      {"data": {"name": "curve"}, "transform": [{"filter": "datum.p=='4-9'"}], "mark": {"type": "line", "color": "#5ccde0", "strokeWidth": 2}, "encoding": {"x": {"field": "x", "type": "quantitative"}, "y": {"field": "y", "type": "quantitative"}, "detail": {"field": "s"}, "order": {"value": null}}},
      {"data": {"name": "curve"}, "transform": [{"filter": "datum.p=='4-9' && datum.s=='a'"}], "mark": {"type": "point", "shape": "circle", "filled": true, "size": 12, "color": "#63cbe0", "stroke": "#2aa6c2", "strokeWidth": 0.5, "opacity": 1}, "encoding": {"x": {"field": "x", "type": "quantitative"}, "y": {"field": "y", "type": "quantitative"}}},
      {"data": {"name": "fit"}, "transform": [{"filter": "datum.p=='4-9'"}], "mark": {"type": "line", "strokeWidth": 1.5}, "encoding": {"x": {"field": "x", "type": "quantitative"}, "y": {"field": "y", "type": "quantitative"}, "color": {"field": "k", "type": "nominal", "scale": {"domain": ["r", "c", "m"], "range": ["#ee1c25", "#3cc3d5", "#b663f2"]}, "legend": null}}},
      {"data": {"name": "ann"}, "transform": [{"filter": "datum.p=='4-9' && datum.k!='t'"}], "mark": {"type": "text", "align": "left", "baseline": "middle", "fontSize": 9.5}, "encoding": {"x": {"field": "x", "type": "quantitative"}, "y": {"field": "y", "type": "quantitative"}, "text": {"field": "t"}, "color": {"field": "k", "type": "nominal", "scale": {"domain": ["r", "c", "m"], "range": ["#ee1c25", "#3cc3d5", "#b663f2"]}, "legend": null}}},
      {"data": {"name": "ann"}, "transform": [{"filter": "datum.p=='4-9' && datum.k=='t'"}], "mark": {"type": "text", "align": "center", "baseline": "middle", "fontSize": 13, "fontWeight": "bold", "color": "#f2611f"}, "encoding": {"x": {"field": "x", "type": "quantitative"}, "y": {"field": "y", "type": "quantitative"}, "text": {"field": "t"}}}
    ]},
    {"width": 152, "height": 123, "layer": [
      {"data": {"values": [{}]}, "mark": {"type": "rect", "color": {"gradient": "linear", "x1": 0, "x2": 1, "y1": 0, "y2": 0, "stops": [{"offset": 0, "color": "#c2d7f1"}, {"offset": 0.9, "color": "#ffffff"}]}},
       "encoding": {"x": {"datum": -2.5, "type": "quantitative", "scale": {"domain": [-2.5, 3], "nice": false}, "axis": {"title": "lgP", "values": [-2, -1, 0, 1, 2, 3], "tickCount": 20, "format": "d", "labelOverlap": false}}, "x2": {"datum": 3},
                    "y": {"datum": -2.8, "type": "quantitative", "scale": {"domain": [-2.8, 0], "nice": false, "zero": false}, "axis": {"title": "lg(1−S)", "values": [0, -0.5, -1, -1.5, -2, -2.5], "tickCount": 20, "format": ".1f", "labelOverlap": false}}, "y2": {"datum": 0}}},
      {"data": {"name": "vl"}, "transform": [{"filter": "datum.p=='4-13'"}], "mark": {"type": "rule", "color": "#7d7d7d", "strokeDash": [2, 2], "strokeWidth": 0.8}, "encoding": {"x": {"field": "x", "type": "quantitative"}}},
      {"data": {"name": "curve"}, "transform": [{"filter": "datum.p=='4-13'"}], "mark": {"type": "line", "color": "#5ccde0", "strokeWidth": 2}, "encoding": {"x": {"field": "x", "type": "quantitative"}, "y": {"field": "y", "type": "quantitative"}, "detail": {"field": "s"}, "order": {"value": null}}},
      {"data": {"name": "curve"}, "transform": [{"filter": "datum.p=='4-13' && datum.s=='a'"}], "mark": {"type": "point", "shape": "circle", "filled": true, "size": 12, "color": "#63cbe0", "stroke": "#2aa6c2", "strokeWidth": 0.5, "opacity": 1}, "encoding": {"x": {"field": "x", "type": "quantitative"}, "y": {"field": "y", "type": "quantitative"}}},
      {"data": {"name": "fit"}, "transform": [{"filter": "datum.p=='4-13'"}], "mark": {"type": "line", "strokeWidth": 1.5}, "encoding": {"x": {"field": "x", "type": "quantitative"}, "y": {"field": "y", "type": "quantitative"}, "color": {"field": "k", "type": "nominal", "scale": {"domain": ["r", "c", "m"], "range": ["#ee1c25", "#3cc3d5", "#b663f2"]}, "legend": null}}},
      {"data": {"name": "ann"}, "transform": [{"filter": "datum.p=='4-13' && datum.k!='t'"}], "mark": {"type": "text", "align": "left", "baseline": "middle", "fontSize": 9.5}, "encoding": {"x": {"field": "x", "type": "quantitative"}, "y": {"field": "y", "type": "quantitative"}, "text": {"field": "t"}, "color": {"field": "k", "type": "nominal", "scale": {"domain": ["r", "c", "m"], "range": ["#ee1c25", "#3cc3d5", "#b663f2"]}, "legend": null}}},
      {"data": {"name": "ann"}, "transform": [{"filter": "datum.p=='4-13' && datum.k=='t'"}], "mark": {"type": "text", "align": "center", "baseline": "middle", "fontSize": 13, "fontWeight": "bold", "color": "#f2611f"}, "encoding": {"x": {"field": "x", "type": "quantitative"}, "y": {"field": "y", "type": "quantitative"}, "text": {"field": "t"}}}
    ]},
    {"width": 152, "height": 123, "layer": [
      {"data": {"values": [{}]}, "mark": {"type": "rect", "color": {"gradient": "linear", "x1": 0, "x2": 1, "y1": 0, "y2": 0, "stops": [{"offset": 0, "color": "#c2d7f1"}, {"offset": 0.9, "color": "#ffffff"}]}},
       "encoding": {"x": {"datum": -2.5, "type": "quantitative", "scale": {"domain": [-2.5, 3], "nice": false}, "axis": {"title": "lgP", "values": [-2, -1, 0, 1, 2, 3], "tickCount": 20, "format": "d", "labelOverlap": false}}, "x2": {"datum": 3},
                    "y": {"datum": -2.5, "type": "quantitative", "scale": {"domain": [-2.5, -0.25], "nice": false, "zero": false}, "axis": {"title": "lg(1−S)", "values": [-0.5, -1, -1.5, -2, -2.5], "tickCount": 20, "format": ".1f", "labelOverlap": false}}, "y2": {"datum": -0.25}}},
      {"data": {"name": "vl"}, "transform": [{"filter": "datum.p=='4-17'"}], "mark": {"type": "rule", "color": "#7d7d7d", "strokeDash": [2, 2], "strokeWidth": 0.8}, "encoding": {"x": {"field": "x", "type": "quantitative"}}},
      {"data": {"name": "curve"}, "transform": [{"filter": "datum.p=='4-17'"}], "mark": {"type": "line", "color": "#5ccde0", "strokeWidth": 2}, "encoding": {"x": {"field": "x", "type": "quantitative"}, "y": {"field": "y", "type": "quantitative"}, "detail": {"field": "s"}, "order": {"value": null}}},
      {"data": {"name": "curve"}, "transform": [{"filter": "datum.p=='4-17' && datum.s=='a'"}], "mark": {"type": "point", "shape": "circle", "filled": true, "size": 12, "color": "#63cbe0", "stroke": "#2aa6c2", "strokeWidth": 0.5, "opacity": 1}, "encoding": {"x": {"field": "x", "type": "quantitative"}, "y": {"field": "y", "type": "quantitative"}}},
      {"data": {"name": "fit"}, "transform": [{"filter": "datum.p=='4-17'"}], "mark": {"type": "line", "strokeWidth": 1.5}, "encoding": {"x": {"field": "x", "type": "quantitative"}, "y": {"field": "y", "type": "quantitative"}, "color": {"field": "k", "type": "nominal", "scale": {"domain": ["r", "c", "m"], "range": ["#ee1c25", "#3cc3d5", "#b663f2"]}, "legend": null}}},
      {"data": {"name": "ann"}, "transform": [{"filter": "datum.p=='4-17' && datum.k!='t'"}], "mark": {"type": "text", "align": "left", "baseline": "middle", "fontSize": 9.5}, "encoding": {"x": {"field": "x", "type": "quantitative"}, "y": {"field": "y", "type": "quantitative"}, "text": {"field": "t"}, "color": {"field": "k", "type": "nominal", "scale": {"domain": ["r", "c", "m"], "range": ["#ee1c25", "#3cc3d5", "#b663f2"]}, "legend": null}}},
      {"data": {"name": "ann"}, "transform": [{"filter": "datum.p=='4-17' && datum.k=='t'"}], "mark": {"type": "text", "align": "center", "baseline": "middle", "fontSize": 13, "fontWeight": "bold", "color": "#f2611f"}, "encoding": {"x": {"field": "x", "type": "quantitative"}, "y": {"field": "y", "type": "quantitative"}, "text": {"field": "t"}}}
    ]}
  ],
  "config": {
    "font": "Liberation Serif",
    "view": {"stroke": "#555555", "strokeWidth": 1},
    "axis": {"labelFont": "Liberation Serif", "labelFontSize": 10, "labelColor": "#222222", "titleFont": "Liberation Serif", "titleFontSize": 12, "titleFontWeight": "normal", "titleColor": "#222222", "domainColor": "#555555", "tickColor": "#555555", "tickSize": 3, "grid": false, "labelFlush": false, "labelOverlap": false},
    "axisX": {"titlePadding": 0, "labelPadding": 0},
    "axisY": {"titlePadding": 1, "labelPadding": 1}
  }
}
